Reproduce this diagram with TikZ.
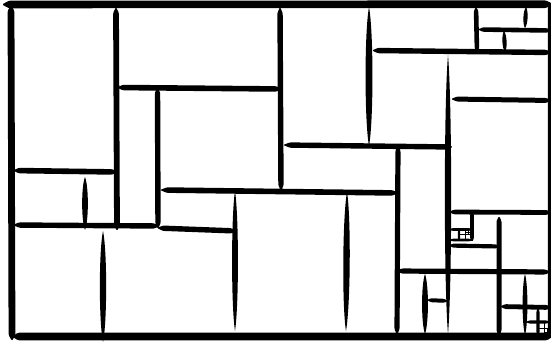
\documentclass[tikz,border=0pt]{standalone}
\usetikzlibrary{calc}
% tapered bar: #1 start, #2 end, #3 half width, #4 taper length
\newcommand\brush[4]{\fill[rounded corners=1.2pt] #1 -- ($#1!#4!#2!#3!90:#2$) -- ($#2!#4!#1!#3!-90:#1$) -- #2 -- ($#2!#4!#1!#3!90:#1$) -- ($#1!#4!#2!#3!-90:#2$) -- cycle;}
% lens stroke: #1 start, #2 end, #3 control offset (max width = 1.5*#3)
\newcommand\lens[3]{\fill #1 .. controls ($#1!0.18!#2!#3!90:#2$) and ($#2!0.18!#1!#3!-90:#1$) .. #2 .. controls ($#2!0.18!#1!#3!90:#1$) and ($#1!0.18!#2!#3!-90:#2$) .. cycle;}
\tikzset{fine/.style={line width=0.8pt}}
\begin{document}
\begin{tikzpicture}[x=1pt,y=-1pt]
\useasboundingbox (0,0) rectangle (551,345);
\fill[white] (0,0) rectangle (551,345);
% outer frame
\brush{(2,4.5)}{(553,4.2)}{3.8pt}{7pt}
\brush{(11,5)}{(12,341)}{3.4pt}{6pt}
\brush{(12,336.5)}{(553,336.5)}{3.8pt}{6pt}
\brush{(549.5,1)}{(549.5,338)}{1.6pt}{4pt}
% left part
\brush{(116,7)}{(117,231)}{2.9pt}{6pt}
\brush{(13,170.5)}{(118,172)}{2.8pt}{6pt}
\brush{(117,87.5)}{(282,89)}{2.8pt}{6pt}
\brush{(157.5,87)}{(158,229)}{2.7pt}{6pt}
\brush{(13,225)}{(160,226)}{2.7pt}{6pt}
\brush{(157,228)}{(237,231)}{2.7pt}{6pt}
\lens{(85,177)}{(85,230)}{3.8pt}
\lens{(103,231)}{(103,342)}{4.2pt}
% middle
\brush{(280,7)}{(281,191)}{2.7pt}{6pt}
\brush{(160,190)}{(399,193)}{2.8pt}{7pt}
\lens{(235,191)}{(235,331)}{3.9pt}
\lens{(347,192)}{(346,331)}{4.3pt}
\lens{(369,7)}{(369,146)}{4.6pt}
\brush{(283,145)}{(453,147)}{2.7pt}{7pt}
\brush{(398,145)}{(397,335)}{2.6pt}{6pt}
\brush{(396,271)}{(551,272)}{2.6pt}{6pt}
\lens{(425,274)}{(425,334)}{3.9pt}
\brush{(427,300)}{(448,301)}{2pt}{4pt}
\lens{(448,55)}{(448,334)}{4.2pt}
% upper right
\brush{(372,50.5)}{(552,52.5)}{2.7pt}{6pt}
\brush{(476,7)}{(477,52)}{2.3pt}{4pt}
\brush{(478,29.5)}{(552,30.5)}{2.3pt}{5pt}
\lens{(526,7)}{(525,28)}{2.8pt}
\lens{(504,31)}{(505,52)}{2.8pt}
\brush{(451,99)}{(552,100.5)}{2.5pt}{6pt}
% lower right
\brush{(449,212)}{(552,212.5)}{2.4pt}{5pt}
\brush{(499,216)}{(499,336)}{2.5pt}{5pt}
\brush{(449,245.5)}{(500,246.5)}{2.1pt}{4pt}
\brush{(472,211)}{(472,242)}{1.8pt}{3pt}
\brush{(449,229.5)}{(473,229.5)}{1.4pt}{3pt}
\brush{(449,240)}{(473,240)}{1.3pt}{3pt}
\brush{(459,229)}{(459,241)}{1.2pt}{2pt}
\draw[fine] (465.5,229.5) -- (465.5,240);
\draw[fine] (459,234.5) -- (472,234.5);
\draw[line width=0.45pt] (468.5,229.5) -- (468.5,234.5);
\draw[line width=0.45pt] (465.5,232) -- (472,232);
\brush{(500,306.5)}{(552,307.5)}{2.4pt}{5pt}
\lens{(525,274)}{(525,335)}{3.2pt}
\brush{(526,322)}{(550,322)}{1.6pt}{3pt}
\brush{(538,308)}{(538,336)}{1.6pt}{3pt}
\draw[fine] (544,322) -- (544,335);
\draw[fine] (538,328.5) -- (550,328.5);
\draw[line width=0.45pt] (546.8,328.5) -- (546.8,335);
\draw[line width=0.45pt] (544,331.8) -- (550,331.8);
\end{tikzpicture}
\end{document}
